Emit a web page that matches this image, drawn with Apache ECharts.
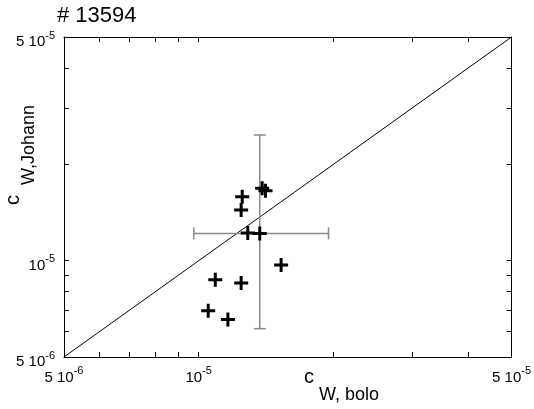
<!DOCTYPE html>
<html><head><meta charset="utf-8">
<script src="https://cdn.jsdelivr.net/npm/echarts@6/dist/echarts.min.js"></script>
<style>html,body{margin:0;padding:0;background:#fff}#c{width:534px;height:409px}</style>
</head><body><div id="c"></div>
<script>
const titleText = '# 13594';
const xNameMain = 'c', xNameSub = 'W, bolo';
const yNameMain = 'c', yNameSub = 'W,Johann';
const axisRange = [5e-6, 5e-5];
const tickValues = [5e-6, 6e-6, 7e-6, 8e-6, 9e-6, 1e-5, 2e-5, 3e-5, 4e-5, 5e-5];
const labelValues = [5e-6, 1e-5, 5e-5];
const cBolo   = [1.386e-5, 1.41e-5, 1.251e-5, 1.244e-5, 1.287e-5, 1.369e-5, 1.528e-5, 1.089e-5, 1.244e-5, 1.05e-5, 1.162e-5];
const cJohann = [1.683e-5, 1.655e-5, 1.585e-5, 1.44e-5, 1.22e-5, 1.217e-5, 9.69e-6, 8.72e-6, 8.52e-6, 6.97e-6, 6.55e-6];
const meanPoint = [1.369e-5, 1.217e-5];
const xErrRange = [9.75e-6, 1.95e-5];
const yErrRange = [6.13e-6, 2.47e-5];

const FONT = 'Liberation Sans, Arial, sans-serif';
function fmt(v) {
  const e = Math.floor(Math.log10(v) + 1e-9);
  const m = Math.round(v / Math.pow(10, e));
  return '{n|' + (m === 1 ? '10' : m + ' 10') + '}{s|' + e + '}';
}
const labelRich = {
  n: { fontSize: 15, fontFamily: FONT, color: '#000', padding: [10, 0, 0, 0] },
  s: { fontSize: 11, fontFamily: FONT, color: '#000', padding: [0, 0, 3, 0] }
};
function mkAxis(pos, showLabel, margin) {
  return {
    type: 'log', logBase: 10, min: axisRange[0], max: axisRange[1], position: pos,
    axisLine: { show: true, lineStyle: { color: '#000', width: 1 } },
    axisTick: { show: true, inside: true, length: 5, customValues: tickValues, lineStyle: { color: '#000', width: 1 } },
    axisLabel: { show: showLabel, customValues: labelValues, formatter: fmt, rich: labelRich, margin: margin, showMinLabel: true, showMaxLabel: true },
    splitLine: { show: false }, minorTick: { show: false }, minorSplitLine: { show: false }
  };
}
const cross = 'path://M5.5,0h3v5.5h5.5v3h-5.5v5.5h-3v-5.5h-5.5v-3h5.5z';
const chart = echarts.init(document.getElementById('c'), null, { renderer: 'canvas' });
chart.setOption({
  animation: false,
  backgroundColor: '#fff',
  grid: { left: 64, right: 21, top: 37, bottom: 52, containLabel: false },
  xAxis: [mkAxis('bottom', true, 3), mkAxis('top', false, 8)],
  yAxis: [mkAxis('left', true, 9), mkAxis('right', false, 8)],
  graphic: [
    { type: 'text', left: 57, top: 5, style: { text: titleText, font: '22px ' + FONT, fill: '#000' } },
    { type: 'text', x: 304, y: 367, style: { text: '{c|' + xNameMain + '}{s|' + xNameSub + '}', rich: {
        c: { fontSize: 20, fontFamily: FONT, fill: '#000', padding: [0, 5, 18, 0] },
        s: { fontSize: 18, fontFamily: FONT, fill: '#000', padding: [18, 0, 0, 0] } } } },
    { type: 'text', x: 21, y: 155, rotation: Math.PI / 2, style: { text: '{c|' + yNameMain + '}{s|' + yNameSub + '}', align: 'center', verticalAlign: 'middle', rich: {
        c: { fontSize: 20, fontFamily: FONT, fill: '#000', padding: [0, 10, 16, 0] },
        s: { fontSize: 18, fontFamily: FONT, fill: '#000', padding: [16, 0, 0, 0] } } } }
  ],
  series: [
    { type: 'line', data: [[axisRange[0], axisRange[0]], [axisRange[1], axisRange[1]]], symbol: 'none',
      lineStyle: { color: '#000', width: 1 }, silent: true, z: 2 },
    { type: 'custom', z: 3, data: [[meanPoint[0], meanPoint[1], xErrRange[0], xErrRange[1], yErrRange[0], yErrRange[1]]],
      renderItem: function (params, api) {
        const c = api.coord([api.value(0), api.value(1)]);
        const xl = api.coord([api.value(2), api.value(1)]);
        const xh = api.coord([api.value(3), api.value(1)]);
        const yl = api.coord([api.value(0), api.value(4)]);
        const yh = api.coord([api.value(0), api.value(5)]);
        const cap = 6;
        const st = { stroke: '#8a8a8a', lineWidth: 1.5 };
        return { type: 'group', children: [
          { type: 'line', shape: { x1: xl[0], y1: c[1], x2: xh[0], y2: c[1] }, style: st },
          { type: 'line', shape: { x1: c[0], y1: yl[1], x2: c[0], y2: yh[1] }, style: st },
          { type: 'line', shape: { x1: xl[0], y1: c[1] - cap, x2: xl[0], y2: c[1] + cap }, style: st },
          { type: 'line', shape: { x1: xh[0], y1: c[1] - cap, x2: xh[0], y2: c[1] + cap }, style: st },
          { type: 'line', shape: { x1: c[0] - cap, y1: yl[1], x2: c[0] + cap, y2: yl[1] }, style: st },
          { type: 'line', shape: { x1: c[0] - cap, y1: yh[1], x2: c[0] + cap, y2: yh[1] }, style: st }
        ] };
      } },
    { type: 'scatter', z: 4, data: cBolo.map((x, i) => [x, cJohann[i]]), symbol: cross, symbolSize: 14,
      itemStyle: { color: '#000', opacity: 1 } }
  ]
});
</script></body></html>
